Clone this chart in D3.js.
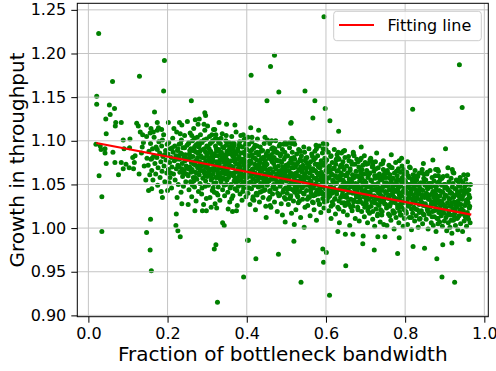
<!DOCTYPE html>
<html><head><meta charset="utf-8">
<script src="https://cdn.jsdelivr.net/npm/d3@7"></script>
<style>body{margin:0;background:#fff}svg{display:block}text{font-family:"DejaVu Sans",sans-serif}</style>
</head><body>
<svg id="c" width="496" height="371"></svg>
<script>
const xTicks = [0.0, 0.2, 0.4, 0.6, 0.8, 1.0];
const yTicks = [0.90, 0.95, 1.00, 1.05, 1.10, 1.15, 1.20, 1.25];
const xLabel = "Fraction of bottleneck bandwidth";
const yLabel = "Growth in throughput";
const legendLabel = "Fitting line";
const fitX = [0.020, 0.967];
const fitY = [1.0975, 1.0155];

const outliers = [[0.026,1.223],[0.192,1.192],[0.129,1.174],[0.061,1.168],[0.190,1.157],[0.021,1.151],[0.021,1.142],[0.260,1.146],[0.053,1.141],[0.066,1.137],[0.055,1.130],[0.044,1.125],[0.069,1.121],[0.068,1.117],[0.083,1.121],[0.045,1.108],[0.167,1.133],[0.294,1.132],[0.296,1.129],[0.349,1.119],
[0.595,1.242],[0.470,1.198],[0.460,1.185],[0.411,1.175],[0.481,1.156],[0.547,1.157],[0.451,1.146],[0.572,1.146],[0.598,1.137],[0.567,1.126],[0.610,1.123],[0.512,1.121],[0.632,1.111],[0.937,1.187],[0.944,1.138],[0.819,1.136],[0.902,1.091],[0.689,1.093],[0.593,1.097],[0.446,1.104],[0.452,1.101],[0.514,1.103],[0.508,1.098],[0.500,1.096],
[0.647,1.089],[0.669,1.087],[0.728,1.086],[0.765,1.084],[0.791,1.080],[0.785,1.077],[0.806,1.076],[0.870,1.078],[0.846,1.074],[0.877,1.067],[0.882,1.067],[0.919,1.067],[0.921,1.064],[0.842,1.063],[0.884,1.060],[0.745,1.077],[0.717,1.076],[0.697,1.083],[0.702,1.073],[0.681,1.076],[0.626,1.078],
[0.034,1.036],[0.034,0.996],[0.157,1.010],[0.147,0.995],[0.156,0.975],[0.159,0.951],[0.221,1.003],[0.226,0.997],[0.232,0.990],[0.222,1.016],[0.318,0.976],[0.322,0.981],[0.326,0.915],[0.339,1.006],[0.343,1.003],[0.392,0.944],[0.404,0.986],[0.152,1.043],[0.160,1.045],[0.184,1.042],[0.187,1.035],[0.200,1.043],[0.269,1.020],[0.288,1.020],[0.298,1.020],[0.310,1.024],[0.324,1.023],[0.353,1.022],[0.364,1.019],[0.374,1.020],[0.236,1.028],[0.252,1.027],
[0.423,0.965],[0.480,0.970],[0.519,0.985],[0.537,0.938],[0.592,0.976],[0.601,0.972],[0.594,0.961],[0.609,0.923],[0.650,0.957],[0.722,0.975],[0.693,0.982],[0.781,0.971],[0.820,0.979],[0.849,0.977],[0.880,0.965],[0.893,0.944],[0.925,0.938],[0.895,0.981],[0.918,0.983],[0.961,0.987],[0.402,0.986],[0.497,1.007],[0.520,1.004],[0.545,1.001],[0.649,0.993],[0.668,0.993],[0.694,0.991],[0.731,0.990],[0.749,0.990],[0.785,0.989],[0.630,0.996],[0.449,1.012],[0.490,1.015]];

const leftSparse = [[0.019,1.096],[0.030,1.094],[0.042,1.091],[0.032,1.090],[0.042,1.086],[0.062,1.087],[0.045,1.074],[0.027,1.060],[0.076,1.061],[0.067,1.075],[0.083,1.075],[0.088,1.101],[0.105,1.102],[0.090,1.091],[0.104,1.092],[0.095,1.073],[0.112,1.081],[0.118,1.083],[0.103,1.069],[0.088,1.068],[0.114,1.068],[0.116,1.075],[0.122,1.120],[0.126,1.117],[0.131,1.110],[0.147,1.118],[0.158,1.114],[0.156,1.109],[0.164,1.110],[0.174,1.112],[0.177,1.115],[0.185,1.113],[0.174,1.121],[0.202,1.121],[0.230,1.121],[0.236,1.118],[0.250,1.122],[0.270,1.124],[0.292,1.119],[0.301,1.117],[0.137,1.107],[0.147,1.105],[0.139,1.098],
[0.319,1.113],[0.511,1.120],[0.391,1.107],[0.413,1.104],[0.395,1.102],[0.463,1.100],[0.484,1.096],[0.497,1.098],[0.519,1.100],[0.535,1.088],[0.575,1.095],[0.576,1.091],[0.600,1.090],[0.602,1.096],[0.631,1.080],[0.644,1.088],[0.312,1.107],[0.320,1.102],[0.280,1.125],[0.330,1.121],[0.370,1.118],[0.410,1.115],[0.430,1.112],
[0.128,1.062],[0.134,1.086],[0.141,1.071],[0.145,1.055],[0.136,1.093],[0.148,1.080]];

const cloudA = [[0.151,1.072],[0.153,1.088],[0.155,1.061],[0.157,1.097],[0.158,1.079],[0.160,1.066],[0.162,1.091],[0.163,1.055],[0.165,1.083],[0.166,1.104],[0.168,1.074],[0.170,1.062],[0.171,1.093],[0.173,1.081],[0.175,1.049],[0.176,1.069],[0.178,1.099],[0.180,1.086],[0.181,1.058],[0.183,1.076],[0.185,1.094],[0.186,1.065],[0.188,1.082],[0.190,1.107],[0.191,1.071],[0.193,1.053],[0.195,1.089],[0.196,1.078],[0.198,1.063],[0.199,1.096],[0.192,1.084],[0.187,1.101],[0.174,1.090],[0.161,1.080],
[0.201,1.085],[0.202,1.067],[0.203,1.098],[0.205,1.075],[0.206,1.058],[0.207,1.091],[0.209,1.081],[0.210,1.046],[0.211,1.070],[0.213,1.103],[0.214,1.087],[0.215,1.062],[0.217,1.077],[0.218,1.094],[0.219,1.055],[0.221,1.083],[0.222,1.068],[0.223,1.110],[0.225,1.089],[0.226,1.072],[0.227,1.050],[0.229,1.096],[0.230,1.079],[0.231,1.064],[0.233,1.086],[0.234,1.041],[0.235,1.101],[0.237,1.074],[0.238,1.059],[0.239,1.092],[0.241,1.081],[0.242,1.066],[0.243,1.106],[0.245,1.084],[0.246,1.053],[0.247,1.071],[0.249,1.095],[0.208,1.063],[0.216,1.114],[0.224,1.035],[0.232,1.108],[0.240,1.048],[0.244,1.077],[0.212,1.092],[0.228,1.083],[0.236,1.068],[0.204,1.052],[0.248,1.062],
[0.251,1.079],[0.252,1.060],[0.253,1.097],[0.254,1.044],[0.255,1.085],[0.256,1.070],[0.257,1.109],[0.258,1.053],[0.259,1.091],[0.260,1.075],[0.261,1.036],[0.262,1.067],[0.263,1.100],[0.264,1.082],[0.265,1.058],[0.266,1.114],[0.267,1.073],[0.268,1.047],[0.269,1.088],[0.270,1.064],[0.271,1.095],[0.272,1.031],[0.273,1.078],[0.274,1.056],[0.275,1.104],[0.276,1.069],[0.277,1.086],[0.278,1.042],[0.279,1.093],[0.280,1.061],[0.281,1.076],[0.282,1.051],[0.283,1.107],[0.284,1.083],[0.285,1.066],[0.286,1.039],[0.287,1.098],[0.288,1.072],[0.289,1.057],[0.290,1.090],[0.291,1.027],[0.292,1.080],[0.293,1.063],[0.294,1.112],[0.295,1.048],[0.296,1.087],[0.297,1.070],[0.298,1.034],[0.299,1.094],[0.300,1.059],[0.253,1.068],[0.258,1.081],[0.263,1.049],[0.268,1.093],[0.273,1.063],[0.277,1.119],[0.282,1.088],[0.287,1.046],[0.292,1.101],[0.297,1.077],[0.256,1.089],[0.266,1.054],[0.276,1.081],[0.286,1.071],[0.296,1.054],[0.261,1.106],[0.271,1.072],[0.281,1.096],[0.291,1.066],[0.299,1.083],
[0.301,1.072],[0.302,1.093],[0.303,1.049],[0.304,1.081],[0.305,1.061],[0.306,1.105],[0.307,1.035],[0.308,1.076],[0.309,1.088],[0.310,1.055],[0.311,1.068],[0.312,1.099],[0.313,1.043],[0.314,1.079],[0.315,1.062],[0.316,1.113],[0.317,1.051],[0.318,1.085],[0.319,1.071],[0.320,1.028],[0.321,1.094],[0.322,1.058],[0.323,1.076],[0.324,1.040],[0.325,1.102],[0.326,1.066],[0.327,1.083],[0.328,1.047],[0.329,1.090],[0.330,1.060],[0.331,1.074],[0.332,1.032],[0.333,1.097],[0.334,1.069],[0.335,1.053],[0.336,1.087],[0.337,1.064],[0.338,1.108],[0.339,1.044],[0.340,1.078],[0.341,1.057],[0.342,1.092],[0.343,1.070],[0.344,1.037],[0.345,1.084],[0.346,1.062],[0.347,1.100],[0.348,1.050],[0.349,1.073],[0.350,1.088],[0.303,1.064],[0.308,1.097],[0.313,1.084],[0.318,1.041],[0.323,1.091],[0.328,1.072],[0.333,1.056],[0.338,1.081],[0.343,1.049],[0.348,1.095],[0.305,1.078],[0.315,1.046],[0.325,1.058],[0.335,1.103],[0.345,1.066],[0.310,1.086],[0.320,1.067],[0.330,1.089],[0.340,1.063],[0.350,1.055],[0.312,1.057],[0.322,1.107],[0.332,1.078],[0.342,1.075],[0.307,1.066],[0.327,1.038],[0.347,1.081]];

const cloudB = [[0.351,1.067],[0.352,1.041],[0.353,1.085],[0.354,1.058],[0.355,1.098],[0.356,1.072],[0.357,1.030],[0.358,1.063],[0.359,1.089],[0.360,1.050],[0.361,1.077],[0.362,1.105],[0.363,1.061],[0.364,1.083],[0.365,1.037],[0.366,1.070],[0.367,1.094],[0.368,1.054],[0.369,1.079],[0.370,1.045],[0.371,1.087],[0.372,1.064],[0.373,1.110],[0.374,1.057],[0.375,1.073],[0.376,1.026],[0.377,1.091],[0.378,1.068],[0.379,1.048],[0.380,1.082],[0.381,1.060],[0.382,1.099],[0.383,1.039],[0.384,1.075],[0.385,1.055],[0.386,1.086],[0.387,1.066],[0.388,1.032],[0.389,1.093],[0.390,1.059],[0.391,1.078],[0.392,1.046],[0.393,1.101],[0.394,1.071],[0.395,1.053],[0.396,1.084],[0.397,1.062],[0.398,1.036],[0.399,1.090],[0.400,1.069],[0.353,1.076],[0.358,1.046],[0.363,1.097],[0.368,1.081],[0.373,1.052],[0.378,1.088],[0.383,1.070],[0.388,1.061],[0.393,1.079],[0.398,1.051],[0.355,1.062],[0.365,1.090],[0.375,1.043],[0.385,1.106],[0.395,1.067],[0.360,1.071],[0.370,1.058],[0.380,1.095],[0.390,1.042],[0.357,1.093],[0.367,1.063],[0.377,1.079],[0.387,1.050],[0.397,1.096],[0.362,1.034],[0.372,1.085],[0.382,1.064],[0.392,1.074],
[0.401,1.058],[0.402,1.083],[0.403,1.040],[0.404,1.071],[0.405,1.096],[0.406,1.052],[0.407,1.065],[0.408,1.027],[0.409,1.088],[0.410,1.061],[0.411,1.076],[0.412,1.045],[0.413,1.099],[0.414,1.067],[0.415,1.033],[0.416,1.081],[0.417,1.056],[0.418,1.092],[0.419,1.049],[0.420,1.073],[0.421,1.063],[0.422,1.021],[0.423,1.086],[0.424,1.054],[0.425,1.078],[0.426,1.038],[0.427,1.102],[0.428,1.068],[0.429,1.047],[0.430,1.084],[0.431,1.059],[0.432,1.030],[0.433,1.075],[0.434,1.093],[0.435,1.051],[0.436,1.066],[0.437,1.042],[0.438,1.080],[0.439,1.057],[0.440,1.089],[0.441,1.035],[0.442,1.070],[0.443,1.053],[0.444,1.097],[0.445,1.062],[0.446,1.044],[0.447,1.077],[0.448,1.025],[0.449,1.085],[0.450,1.060],[0.404,1.046],[0.409,1.074],[0.414,1.090],[0.419,1.062],[0.424,1.040],[0.429,1.071],[0.434,1.064],[0.439,1.048],[0.444,1.081],[0.449,1.055],[0.406,1.083],[0.416,1.036],[0.426,1.087],[0.436,1.079],[0.446,1.068],[0.411,1.053],[0.421,1.095],[0.431,1.070],[0.441,1.058],[0.403,1.104],[0.413,1.064],[0.423,1.069],[0.433,1.041],[0.443,1.074],[0.418,1.032],
[0.451,1.073],[0.452,1.049],[0.453,1.088],[0.454,1.061],[0.455,1.033],[0.456,1.080],[0.457,1.055],[0.458,1.097],[0.459,1.043],[0.460,1.068],[0.461,1.024],[0.462,1.084],[0.463,1.058],[0.464,1.076],[0.465,1.039],[0.466,1.092],[0.467,1.064],[0.468,1.050],[0.469,1.081],[0.470,1.030],[0.471,1.070],[0.472,1.056],[0.473,1.100],[0.474,1.045],[0.475,1.078],[0.476,1.062],[0.477,1.019],[0.478,1.086],[0.479,1.053],[0.480,1.071],[0.481,1.037],[0.482,1.094],[0.483,1.060],[0.484,1.048],[0.485,1.083],[0.486,1.066],[0.487,1.028],[0.488,1.075],[0.489,1.052],[0.490,1.090],[0.491,1.041],[0.492,1.067],[0.493,1.057],[0.494,1.079],[0.495,1.035],[0.496,1.087],[0.497,1.063],[0.498,1.046],[0.499,1.072],[0.500,1.054],[0.453,1.065],[0.458,1.042],[0.463,1.091],[0.468,1.074],[0.473,1.059],[0.478,1.040],[0.483,1.077],[0.488,1.063],[0.493,1.096],[0.498,1.033],[0.456,1.054],[0.466,1.047],[0.476,1.087],[0.486,1.051],[0.496,1.069],[0.461,1.079],[0.471,1.091],[0.481,1.065],[0.491,1.058],[0.459,1.026],
[0.501,1.066],[0.502,1.040],[0.503,1.083],[0.504,1.055],[0.505,1.027],[0.506,1.074],[0.507,1.049],[0.508,1.092],[0.509,1.061],[0.510,1.035],[0.511,1.078],[0.512,1.052],[0.513,1.017],[0.514,1.069],[0.515,1.087],[0.516,1.044],[0.517,1.059],[0.518,1.031],[0.519,1.081],[0.520,1.057],[0.521,1.096],[0.522,1.047],[0.523,1.070],[0.524,1.021],[0.525,1.063],[0.526,1.085],[0.527,1.038],[0.528,1.054],[0.529,1.075],[0.530,1.029],[0.531,1.090],[0.532,1.050],[0.533,1.067],[0.534,1.042],[0.535,1.079],[0.536,1.012],[0.537,1.058],[0.538,1.083],[0.539,1.046],[0.540,1.064],[0.541,1.033],[0.542,1.072],[0.543,1.053],[0.544,1.093],[0.545,1.039],[0.546,1.061],[0.547,1.024],[0.548,1.077],[0.549,1.049],[0.550,1.068],[0.504,1.071],[0.509,1.045],[0.514,1.097],[0.519,1.062],[0.524,1.053],[0.529,1.036],[0.534,1.088],[0.539,1.066],[0.544,1.056],[0.549,1.080],[0.506,1.058],[0.516,1.074],[0.526,1.043],[0.536,1.070],[0.546,1.087],[0.511,1.037],[0.521,1.079],[0.531,1.060],[0.541,1.047]];

const cloudC = [[0.551,1.043],[0.552,1.081],[0.553,1.058],[0.554,1.026],[0.555,1.070],[0.556,1.049],[0.557,1.091],[0.558,1.035],[0.559,1.063],[0.560,1.014],[0.561,1.076],[0.562,1.054],[0.563,1.040],[0.564,1.085],[0.565,1.060],[0.566,1.030],[0.567,1.068],[0.568,1.046],[0.569,1.078],[0.570,1.021],[0.571,1.057],[0.572,1.088],[0.573,1.038],[0.574,1.065],[0.575,1.051],[0.576,1.009],[0.577,1.073],[0.578,1.044],[0.579,1.083],[0.580,1.032],[0.581,1.061],[0.582,1.049],[0.583,1.094],[0.584,1.027],[0.585,1.069],[0.586,1.055],[0.587,1.018],[0.588,1.077],[0.589,1.041],[0.590,1.062],[0.591,1.086],[0.592,1.034],[0.593,1.056],[0.594,1.072],[0.595,1.023],[0.596,1.047],[0.597,1.080],[0.598,1.059],[0.599,1.037],[0.600,1.066],[0.553,1.074],[0.558,1.052],[0.563,1.067],[0.568,1.029],[0.573,1.080],[0.578,1.063],[0.583,1.042],[0.588,1.058],[0.593,1.091],[0.598,1.045],[0.556,1.036],[0.566,1.082],[0.576,1.057],[0.586,1.074],[0.596,1.030],[0.561,1.047],[0.571,1.066],[0.581,1.039],[0.591,1.052],
[0.601,1.052],[0.602,1.078],[0.603,1.031],[0.604,1.064],[0.605,1.043],[0.606,1.087],[0.607,1.020],[0.608,1.058],[0.609,1.071],[0.610,1.037],[0.611,1.049],[0.612,1.082],[0.613,1.011],[0.614,1.062],[0.615,1.040],[0.616,1.075],[0.617,1.054],[0.618,1.027],[0.619,1.068],[0.620,1.046],[0.621,1.090],[0.622,1.033],[0.623,1.060],[0.624,1.016],[0.625,1.073],[0.626,1.051],[0.627,1.039],[0.628,1.084],[0.629,1.057],[0.630,1.024],[0.631,1.066],[0.632,1.044],[0.633,1.079],[0.634,1.006],[0.635,1.055],[0.636,1.070],[0.637,1.035],[0.638,1.048],[0.639,1.086],[0.640,1.029],[0.641,1.061],[0.642,1.042],[0.643,1.076],[0.644,1.019],[0.645,1.053],[0.646,1.067],[0.647,1.036],[0.648,1.081],[0.649,1.047],[0.650,1.060],[0.603,1.069],[0.608,1.041],[0.613,1.083],[0.618,1.055],[0.623,1.042],[0.628,1.065],[0.633,1.031],[0.638,1.072],[0.643,1.050],[0.648,1.026],[0.606,1.057],[0.616,1.030],[0.626,1.079],[0.636,1.059],[0.646,1.044],[0.611,1.066],[0.621,1.052],[0.631,1.087],[0.641,1.071],
[0.651,1.038],[0.652,1.071],[0.653,1.050],[0.654,1.015],[0.655,1.063],[0.656,1.044],[0.657,1.082],[0.658,1.027],[0.659,1.056],[0.660,1.003],[0.661,1.068],[0.662,1.047],[0.663,1.033],[0.664,1.076],[0.665,1.053],[0.666,1.020],[0.667,1.061],[0.668,1.040],[0.669,1.085],[0.670,1.030],[0.671,1.058],[0.672,1.045],[0.673,1.073],[0.674,1.011],[0.675,1.051],[0.676,1.065],[0.677,1.036],[0.678,1.079],[0.679,1.042],[0.680,1.024],[0.681,1.059],[0.682,1.048],[0.683,1.070],[0.684,1.008],[0.685,1.054],[0.686,1.034],[0.687,1.066],[0.688,1.046],[0.689,1.080],[0.690,1.019],[0.691,1.057],[0.692,1.039],[0.693,1.072],[0.694,1.028],[0.695,1.049],[0.696,1.062],[0.697,1.013],[0.698,1.043],[0.699,1.075],[0.700,1.035],[0.653,1.060],[0.658,1.077],[0.663,1.052],[0.668,1.025],[0.673,1.047],[0.678,1.060],[0.683,1.037],[0.688,1.063],[0.693,1.052],[0.698,1.024],[0.656,1.030],[0.666,1.073],[0.676,1.043],[0.686,1.078],[0.696,1.041],[0.661,1.041],[0.671,1.083],[0.681,1.030],[0.691,1.067],
[0.701,1.052],[0.702,1.028],[0.703,1.066],[0.704,1.041],[0.705,1.006],[0.706,1.058],[0.707,1.074],[0.708,1.033],[0.709,1.047],[0.710,1.017],[0.711,1.063],[0.712,1.039],[0.713,1.080],[0.714,1.025],[0.715,1.054],[0.716,1.044],[0.717,1.070],[0.718,1.010],[0.719,1.049],[0.720,1.031],[0.721,1.065],[0.722,1.037],[0.723,1.002],[0.724,1.057],[0.725,1.076],[0.726,1.022],[0.727,1.045],[0.728,1.060],[0.729,1.034],[0.730,1.014],[0.731,1.051],[0.732,1.069],[0.733,1.040],[0.734,1.026],[0.735,1.062],[0.736,1.046],[0.737,1.007],[0.738,1.055],[0.739,1.073],[0.740,1.030],[0.741,1.043],[0.742,1.019],[0.743,1.059],[0.744,1.036],[0.745,1.067],[0.746,1.004],[0.747,1.048],[0.748,1.028],[0.749,1.064],[0.750,1.042],[0.703,1.036],[0.708,1.061],[0.713,1.048],[0.718,1.072],[0.723,1.029],[0.728,1.043],[0.733,1.058],[0.738,1.021],[0.743,1.074],[0.748,1.052],[0.706,1.020],[0.716,1.030],[0.726,1.068],[0.736,1.032],[0.746,1.061],[0.711,1.078],[0.721,1.050],[0.731,1.016],[0.741,1.056]];

const cloudD = [[0.751,1.027],[0.752,1.058],[0.753,1.040],[0.754,1.003],[0.755,1.066],[0.756,1.035],[0.757,1.050],[0.758,1.016],[0.759,1.072],[0.760,1.044],[0.761,1.025],[0.762,1.061],[0.763,1.038],[0.764,1.009],[0.765,1.054],[0.766,1.031],[0.767,1.069],[0.768,1.047],[0.769,1.020],[0.770,1.057],[0.771,1.036],[0.772,0.999],[0.773,1.063],[0.774,1.042],[0.775,1.029],[0.776,1.075],[0.777,1.012],[0.778,1.051],[0.779,1.033],[0.780,1.060],[0.781,1.023],[0.782,1.045],[0.783,1.068],[0.784,1.006],[0.785,1.039],[0.786,1.055],[0.787,1.027],[0.788,1.064],[0.789,1.048],[0.790,1.015],[0.791,1.037],[0.792,1.071],[0.793,1.030],[0.794,1.053],[0.795,1.002],[0.796,1.043],[0.797,1.062],[0.798,1.021],[0.799,1.046],[0.800,1.034],[0.753,1.052],[0.758,1.034],[0.763,1.070],[0.768,1.030],[0.773,1.018],[0.778,1.065],[0.783,1.041],[0.788,1.032],[0.793,1.058],[0.798,1.011],[0.756,1.063],[0.766,1.043],[0.776,1.050],[0.786,1.019],[0.796,1.067],[0.761,1.014],[0.771,1.049],[0.781,1.055],[0.791,1.024],
[0.801,1.053],[0.802,1.019],[0.803,1.040],[0.804,1.064],[0.805,1.031],[0.806,1.004],[0.807,1.047],[0.808,1.025],[0.809,1.058],[0.810,1.036],[0.811,1.012],[0.812,1.050],[0.813,1.069],[0.814,1.028],[0.815,1.042],[0.816,0.998],[0.817,1.056],[0.818,1.033],[0.819,1.017],[0.820,1.061],[0.821,1.038],[0.822,1.024],[0.823,1.048],[0.824,1.008],[0.825,1.066],[0.826,1.030],[0.827,1.044],[0.828,1.014],[0.829,1.055],[0.830,1.035],[0.831,1.021],[0.832,1.059],[0.833,1.001],[0.834,1.041],[0.835,1.027],[0.836,1.063],[0.837,1.046],[0.838,1.011],[0.839,1.032],[0.840,1.052],[0.841,1.020],[0.842,1.038],[0.843,1.067],[0.844,1.005],[0.845,1.043],[0.846,1.026],[0.847,1.057],[0.848,1.015],[0.849,1.035],[0.850,1.049],[0.803,1.029],[0.808,1.060],[0.813,1.045],[0.818,1.052],[0.823,1.034],[0.828,1.060],[0.833,1.039],[0.838,1.051],[0.843,1.029],[0.848,1.062],[0.806,1.040],[0.816,1.022],[0.826,1.053],[0.836,1.018],[0.846,1.037],[0.811,1.070],
[0.851,1.028],[0.852,1.055],[0.853,1.010],[0.854,1.040],[0.855,1.062],[0.856,1.021],[0.857,1.045],[0.858,0.999],[0.859,1.033],[0.860,1.051],[0.861,1.016],[0.862,1.038],[0.863,1.066],[0.864,1.025],[0.865,1.047],[0.866,1.006],[0.867,1.030],[0.868,1.058],[0.869,1.019],[0.870,1.042],[0.871,1.003],[0.872,1.035],[0.873,1.054],[0.874,1.013],[0.875,1.027],[0.876,1.060],[0.877,1.039],[0.878,0.996],[0.879,1.048],[0.880,1.023],[0.881,1.011],[0.882,1.052],[0.883,1.032],[0.884,1.065],[0.885,1.018],[0.886,1.043],[0.887,1.007],[0.888,1.037],[0.889,1.056],[0.890,1.026],[0.891,1.014],[0.892,1.049],[0.893,1.030],[0.894,1.002],[0.895,1.041],[0.896,1.059],[0.897,1.021],[0.898,1.034],[0.899,1.008],[0.900,1.046],[0.853,1.036],[0.858,1.050],[0.863,1.024],[0.868,1.039],[0.873,1.020],[0.878,1.044],[0.883,1.005],[0.888,1.022],[0.893,1.057],[0.898,1.017],[0.856,1.064],[0.866,1.051],[0.876,1.031],[0.886,1.028],
[0.901,1.025],[0.902,1.050],[0.903,1.012],[0.904,1.037],[0.905,0.997],[0.906,1.060],[0.907,1.029],[0.908,1.044],[0.909,1.006],[0.910,1.019],[0.911,1.053],[0.912,1.033],[0.913,1.001],[0.914,1.040],[0.915,1.015],[0.916,1.057],[0.917,1.026],[0.918,0.994],[0.919,1.047],[0.920,1.022],[0.921,1.035],[0.922,1.009],[0.923,1.063],[0.924,1.030],[0.925,1.017],[0.926,1.045],[0.927,1.003],[0.928,1.038],[0.929,1.055],[0.930,1.024],[0.931,1.011],[0.932,1.042],[0.933,0.998],[0.934,1.031],[0.935,1.049],[0.936,1.014],[0.937,1.036],[0.938,1.021],[0.939,1.058],[0.940,1.005],[0.941,1.027],[0.942,1.043],[0.943,1.016],[0.944,1.033],[0.945,0.996],[0.946,1.052],[0.947,1.020],[0.948,1.039],[0.949,1.008],[0.950,1.047],[0.951,1.026],[0.952,1.013],[0.953,1.056],[0.954,1.032],[0.955,1.002],[0.956,1.041],[0.957,1.018],[0.958,1.061],[0.959,1.029],[0.960,1.010],[0.961,1.044],[0.962,1.023],[0.963,1.035],[0.964,1.006],[0.965,1.050],[0.908,1.069],[0.918,1.040],[0.928,1.026],[0.938,1.048],[0.948,1.061],[0.958,1.033],[0.913,1.025],[0.923,1.014],[0.933,1.054]];

const cloudCore = [[0.222,1.079],[0.226,1.091],[0.229,1.070],[0.233,1.097],[0.236,1.085],[0.240,1.063],[0.243,1.092],[0.247,1.080],[0.250,1.069],[0.254,1.098],[0.257,1.083],[0.259,1.064],[0.262,1.089],[0.265,1.076],[0.268,1.103],[0.270,1.058],[0.273,1.087],[0.276,1.097],[0.279,1.071],[0.282,1.066],[0.284,1.099],[0.287,1.081],[0.290,1.074],[0.293,1.091],[0.295,1.060],[0.298,1.102],[0.300,1.086],
[0.302,1.068],[0.305,1.091],[0.307,1.080],[0.309,1.060],[0.312,1.075],[0.314,1.100],[0.317,1.066],[0.319,1.083],[0.322,1.052],[0.324,1.088],[0.327,1.063],[0.329,1.098],[0.331,1.070],[0.334,1.085],[0.336,1.058],[0.339,1.093],[0.341,1.068],[0.343,1.080],[0.346,1.056],[0.348,1.106],[0.351,1.078],[0.353,1.063],[0.356,1.090],[0.358,1.071],[0.361,1.049],[0.363,1.085],[0.366,1.060],[0.368,1.097],[0.371,1.075],[0.373,1.065],[0.376,1.088],[0.378,1.054],[0.381,1.071],[0.383,1.094],[0.386,1.062],[0.388,1.079],[0.391,1.051],[0.393,1.087],[0.396,1.058],[0.398,1.076],
[0.401,1.090],[0.403,1.064],[0.406,1.046],[0.408,1.077],[0.411,1.059],[0.413,1.084],[0.416,1.068],[0.418,1.050],[0.421,1.080],[0.423,1.060],[0.426,1.094],[0.428,1.055],[0.431,1.073],[0.433,1.048],[0.436,1.088],[0.438,1.066],[0.441,1.081],[0.443,1.043],[0.446,1.060],[0.448,1.072],[0.451,1.052],[0.453,1.083],[0.456,1.067],[0.458,1.035],[0.461,1.062],[0.463,1.079],[0.466,1.056],[0.468,1.087],[0.471,1.045],[0.473,1.068],[0.476,1.053],[0.478,1.077],[0.481,1.060],[0.483,1.038],[0.486,1.085],[0.488,1.056],[0.491,1.070],[0.493,1.044],[0.496,1.061],[0.498,1.082],
[0.501,1.059],[0.503,1.045],[0.506,1.066],[0.508,1.034],[0.511,1.063],[0.513,1.080],[0.516,1.051],[0.518,1.069],[0.521,1.041],[0.523,1.060],[0.526,1.073],[0.528,1.047],[0.531,1.066],[0.533,1.031],[0.536,1.055],[0.538,1.077],[0.541,1.058],[0.543,1.040],[0.546,1.069],[0.548,1.052],[0.551,1.064],[0.553,1.033],[0.556,1.057],[0.558,1.071],[0.561,1.043],[0.563,1.052],[0.566,1.066],[0.568,1.037],[0.571,1.049],[0.573,1.073],[0.576,1.041],[0.578,1.055],[0.581,1.070],[0.583,1.028],[0.586,1.046],[0.588,1.064],[0.591,1.039],[0.593,1.060],[0.596,1.054],[0.598,1.075],
[0.601,1.040],[0.603,1.057],[0.606,1.035],[0.608,1.066],[0.611,1.046],[0.613,1.025],[0.616,1.061],[0.618,1.042],[0.621,1.069],[0.623,1.034],[0.626,1.052],[0.628,1.043],[0.631,1.059],[0.633,1.022],[0.636,1.045],[0.638,1.063],[0.641,1.038],[0.643,1.055],[0.646,1.029],[0.648,1.050],[0.651,1.061],[0.653,1.035],[0.656,1.052],[0.658,1.041],[0.661,1.066],[0.663,1.024],[0.666,1.048],[0.668,1.057],[0.671,1.032],[0.673,1.060],[0.676,1.039],[0.678,1.050],[0.681,1.021],[0.683,1.046],[0.686,1.058],[0.688,1.030],[0.691,1.043],[0.693,1.062],[0.696,1.036],[0.698,1.054],
[0.701,1.031],[0.703,1.047],[0.706,1.062],[0.708,1.024],[0.711,1.041],[0.713,1.055],[0.716,1.036],[0.718,1.019],[0.721,1.044],[0.723,1.060],[0.726,1.033],[0.728,1.050],[0.731,1.027],[0.733,1.045],[0.736,1.056],[0.738,1.038],[0.741,1.015],[0.743,1.047],[0.746,1.032],[0.748,1.058],[0.751,1.040],[0.753,1.023],[0.756,1.048],[0.758,1.035],[0.761,1.057],[0.763,1.028],[0.766,1.051],[0.768,1.039],[0.771,1.017],[0.773,1.044],[0.776,1.034],[0.778,1.054],[0.781,1.026],[0.783,1.047],[0.786,1.037],[0.788,1.015],[0.791,1.052],[0.793,1.041],[0.796,1.029],[0.798,1.055],
[0.801,1.043],[0.803,1.017],[0.806,1.033],[0.808,1.050],[0.811,1.027],[0.813,1.039],[0.816,1.012],[0.818,1.045],[0.821,1.031],[0.823,1.056],[0.826,1.022],[0.828,1.040],[0.831,1.034],[0.833,1.049],[0.836,1.010],[0.838,1.028],[0.841,1.044],[0.843,1.036],[0.846,1.016],[0.848,1.053],[0.851,1.038],[0.853,1.025],[0.856,1.046],[0.858,1.019],[0.861,1.033],[0.863,1.051],[0.866,1.028],[0.868,1.013],[0.871,1.041],[0.873,1.030],[0.876,1.048],[0.878,1.021],[0.881,1.036],[0.883,1.011],[0.886,1.053],[0.888,1.031],[0.891,1.042],[0.893,1.018],[0.896,1.027],[0.898,1.050],[0.901,1.038],[0.903,1.024],[0.906,1.046],[0.908,1.015],[0.911,1.034],[0.913,1.042],[0.916,1.009],[0.918,1.029],[0.921,1.051],[0.923,1.036],[0.926,1.020],[0.928,1.045],[0.931,1.030],[0.933,1.012],[0.936,1.040],[0.938,1.027],[0.941,1.054],[0.943,1.022],[0.946,1.037],[0.948,1.016],[0.951,1.043],[0.953,1.028],[0.956,1.050],[0.958,1.014],[0.961,1.038],[0.963,1.025]];

const svg = d3.select("#c");
const L = 77.3, R = 488.3, T = 3.3, B = 316.7;
const x = d3.scaleLinear().domain([-0.028, 1.010]).range([L, R]);
const y = d3.scaleLinear().domain([0.8985, 1.2575]).range([B, T]);

const allPts = [].concat(cloudA, cloudB, cloudC, cloudD, cloudCore, leftSparse, outliers);

svg.append("clipPath").attr("id","pa").append("rect").attr("x",L).attr("y",T).attr("width",R-L).attr("height",B-T);
const plot = svg.append("g").attr("clip-path","url(#pa)");

plot.append("g").selectAll("circle").data(allPts).join("circle")
  .attr("cx", d => x(d[0])).attr("cy", d => y(d[1])).attr("r", 2.5).attr("fill", "#008000");

const grid = plot.append("g").attr("stroke", "#c4c4c4").attr("stroke-width", 1);
grid.selectAll("line.gx").data(xTicks).join("line").attr("class","gx")
  .attr("x1", d => x(d)).attr("x2", d => x(d)).attr("y1", T).attr("y2", B);
grid.selectAll("line.gy").data(yTicks).join("line").attr("class","gy")
  .attr("y1", d => y(d)).attr("y2", d => y(d)).attr("x1", L).attr("x2", R);

plot.append("path").datum(fitX.map((v,i) => [v, fitY[i]]))
  .attr("d", d3.line().x(d => x(d[0])).y(d => y(d[1])))
  .attr("fill","none").attr("stroke","#ff0000").attr("stroke-width",2.2);

const xa = svg.append("g").attr("transform", `translate(0,${B})`)
  .call(d3.axisBottom(x).tickValues(xTicks).tickFormat(d3.format(".1f")).tickSize(6).tickPadding(5).tickSizeOuter(0));
const ya = svg.append("g").attr("transform", `translate(${L},0)`)
  .call(d3.axisLeft(y).tickValues(yTicks).tickFormat(d3.format(".2f")).tickSize(6).tickPadding(5).tickSizeOuter(0));
[xa, ya].forEach(a => {
  a.select(".domain").remove();
  a.selectAll("text").attr("font-family","DejaVu Sans").attr("font-size","16px").attr("fill","#000");
  a.selectAll("line").attr("stroke","#000");
});

svg.append("rect").attr("x",L).attr("y",T).attr("width",R-L).attr("height",B-T)
  .attr("fill","none").attr("stroke","#000").attr("stroke-width",1);

svg.append("text").attr("x", (L+R)/2).attr("y", 361).attr("text-anchor","middle")
  .attr("font-size","20px").attr("fill","#000").text(xLabel);
svg.append("text").attr("transform", `translate(24,${(T+B)/2}) rotate(-90)`).attr("text-anchor","middle")
  .attr("font-size","20px").attr("fill","#000").text(yLabel);

const lg = svg.append("g");
lg.append("rect").attr("x",333.7).attr("y",11.3).attr("width",147.6).attr("height",29.4).attr("rx",3)
  .attr("fill","#fff").attr("fill-opacity",0.8).attr("stroke","#cccccc").attr("stroke-width",1);
lg.append("line").attr("x1",339).attr("x2",374).attr("y1",25).attr("y2",25).attr("stroke","#ff0000").attr("stroke-width",2.2);
lg.append("text").attr("x",387.5).attr("y",31).attr("font-size","16px").attr("fill","#000").text(legendLabel);
</script>
</body></html>
